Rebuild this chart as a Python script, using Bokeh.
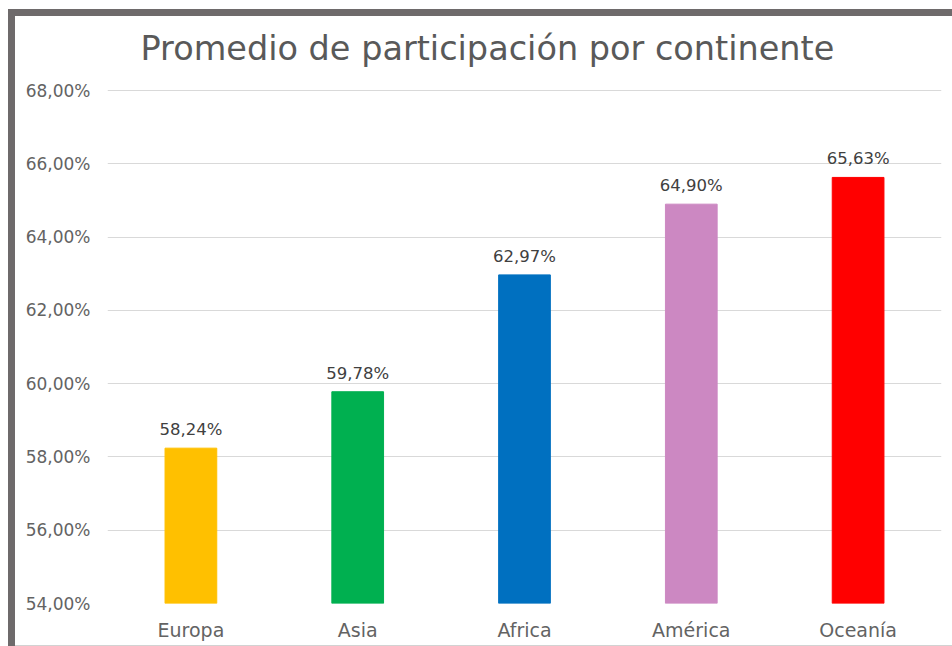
from bokeh.plotting import figure
from bokeh.models import FactorRange, Range1d, ColumnDataSource, CustomJSTickFormatter, FixedTicker
from bokeh.embed import file_html
from bokeh.resources import INLINE

continentes = ["Europa", "Asia", "Africa", "América", "Oceanía"]
participacion = [58.24, 59.78, 62.97, 64.90, 65.63]
colores = ["#FFC000", "#00B050", "#0070C0", "#CC88C2", "#FF0000"]
y_ticks = [54, 56, 58, 60, 62, 64, 66, 68]
titulo = "Promedio de participación por continente"

etiquetas = [f"{v:.2f}".replace(".", ",") + "%" for v in participacion]
src = ColumnDataSource(dict(x=continentes, y=participacion, c=colores, t=etiquetas))

FONT = "DejaVu Sans"
Y_MIN, Y_MAX = 54, 68.03
p = figure(x_range=FactorRange(*continentes), y_range=Range1d(Y_MIN, Y_MAX),
           width=952, height=646, output_backend="svg", toolbar_location=None,
           min_border_left=107, min_border_right=11, min_border_top=89, min_border_bottom=43,
           title=titulo)
GREY = "#6e6a6b"
p.styles = {"background": (
    f"linear-gradient({GREY},{GREY}) 8px 9px / 944px 7px no-repeat, "
    f"linear-gradient({GREY},{GREY}) 8px 9px / 7px 637px no-repeat, "
    "linear-gradient(#d2d2d2,#d2d2d2) 8px 645px / 944px 1px no-repeat, #ffffff")}
p.border_fill_alpha = 0

p.title.align = "left"
p.title.offset = 33
p.title.text_font = FONT
p.title.text_font_size = "33.5px"
p.title.text_font_style = "normal"
p.title.text_color = "#595959"
p.title.standoff = 43

p.vbar(x="x", top="y", bottom=Y_MIN, width=0.31, color="c", source=src)
p.text(x="x", y="y", text="t", source=src, text_align="center", text_baseline="bottom",
       y_offset=-9, text_font_size="16.5px", text_color="#404040", text_font={"value": FONT})

p.outline_line_color = None
p.xgrid.grid_line_color = None
p.ygrid.grid_line_color = "#d9d9d9"
p.ygrid.grid_line_width = 1

p.yaxis.ticker = FixedTicker(ticks=y_ticks)
p.yaxis.formatter = CustomJSTickFormatter(code="return tick.toFixed(2).replace('.', ',') + '%';")
for ax in (p.xaxis, p.yaxis):
    ax.axis_line_color = None
    ax.major_tick_line_color = None
    ax.minor_tick_line_color = None
    ax.major_tick_out = 0
    ax.major_tick_in = 0
    ax.major_label_text_font = FONT
    ax.major_label_text_color = "#636363"
p.yaxis.major_label_text_font_size = "17px"
p.xaxis.major_label_text_font_size = "19px"
p.yaxis.major_label_standoff = 17
p.xaxis.major_label_standoff = 15
p.x_range.range_padding = 0
p.background_fill_color = "white"

open("out.html", "w").write(file_html(p, INLINE))
